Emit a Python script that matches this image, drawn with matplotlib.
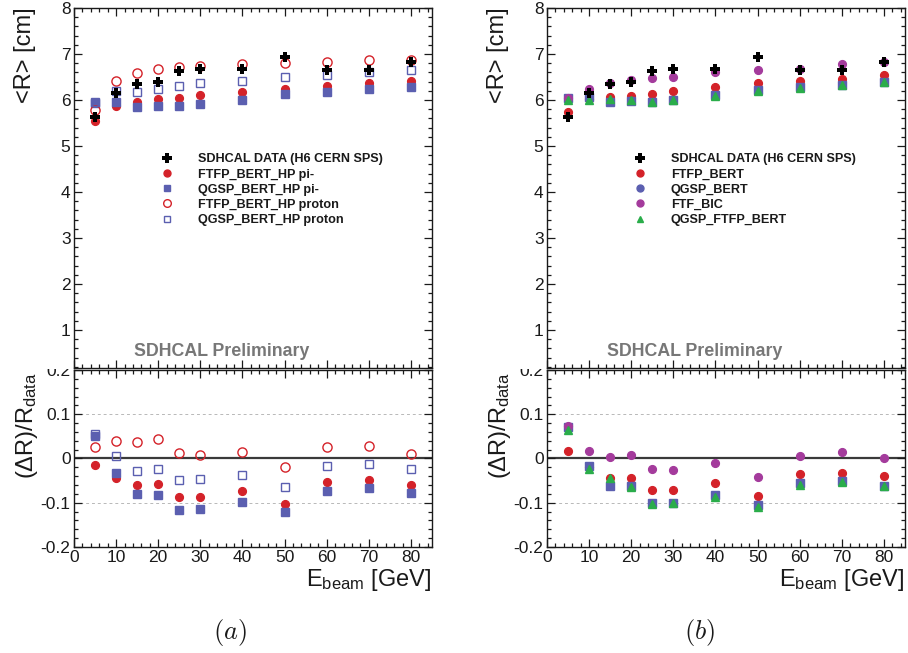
import matplotlib
matplotlib.use("Agg")
import matplotlib.pyplot as plt
from matplotlib.lines import Line2D
from matplotlib.patches import Rectangle
from matplotlib.ticker import MultipleLocator

plt.rcParams['font.family'] = ['Liberation Sans', 'DejaVu Sans']
plt.rcParams['axes.unicode_minus'] = False
plt.rcParams['mathtext.fontset'] = 'custom'
plt.rcParams['mathtext.rm'] = 'Liberation Sans'
plt.rcParams['mathtext.it'] = 'Liberation Sans:italic'
plt.rcParams['mathtext.bf'] = 'Liberation Sans:bold'

# ---------------- data ----------------
energy = [5, 10, 15, 20, 25, 30, 40, 50, 60, 70, 80]

# measured data
data_R = [5.64, 6.16, 6.34, 6.40, 6.63, 6.67, 6.67, 6.94, 6.65, 6.65, 6.83]

# panel (a): HP physics lists, pi- and proton
ftfp_hp_pi_R = [5.55, 5.88, 5.96, 6.02, 6.04, 6.10, 6.17, 6.25, 6.31, 6.36, 6.42]
qgsp_hp_pi_R = [5.93, 5.95, 5.84, 5.86, 5.86, 5.92, 6.01, 6.12, 6.17, 6.25, 6.29]
ftfp_hp_p_R = [5.78, 6.41, 6.59, 6.68, 6.71, 6.75, 6.78, 6.80, 6.83, 6.87, 6.88]
qgsp_hp_p_R = [5.96, 6.20, 6.17, 6.25, 6.30, 6.38, 6.42, 6.51, 6.55, 6.61, 6.66]

ftfp_hp_pi_D = [-0.015, -0.044, -0.060, -0.057, -0.088, -0.086, -0.074, -0.102, -0.053, -0.049, -0.059]
qgsp_hp_pi_D = [0.050, -0.033, -0.080, -0.083, -0.116, -0.113, -0.098, -0.120, -0.073, -0.066, -0.077]
ftfp_hp_p_D = [0.027, 0.040, 0.038, 0.045, 0.012, 0.009, 0.015, -0.020, 0.025, 0.028, 0.010]
qgsp_hp_p_D = [0.055, 0.005, -0.028, -0.023, -0.049, -0.046, -0.037, -0.064, -0.016, -0.012, -0.023]

# panel (b): other physics lists
ftfp_bert_R = [5.73, 6.03, 6.06, 6.09, 6.14, 6.20, 6.29, 6.36, 6.42, 6.46, 6.54]
qgsp_bert_R = [6.04, 6.07, 5.95, 5.97, 5.95, 6.00, 6.10, 6.22, 6.28, 6.33, 6.40]
ftf_bic_R = [6.04, 6.25, 6.36, 6.43, 6.48, 6.51, 6.60, 6.66, 6.68, 6.78, 6.83]
qgsp_ftfp_R = [6.00, 6.00, 6.03, 5.99, 5.96, 6.00, 6.09, 6.19, 6.26, 6.32, 6.39]

ftfp_bert_D = [0.018, -0.020, -0.044, -0.045, -0.071, -0.071, -0.056, -0.084, -0.035, -0.032, -0.040]
qgsp_bert_D = [0.072, -0.017, -0.062, -0.063, -0.101, -0.101, -0.083, -0.105, -0.056, -0.050, -0.062]
ftf_bic_D = [0.074, 0.016, 0.004, 0.009, -0.023, -0.026, -0.011, -0.041, 0.005, 0.014, 0.002]
qgsp_ftfp_D = [0.065, -0.024, -0.044, -0.065, -0.102, -0.101, -0.086, -0.110, -0.059, -0.054, -0.063]

labels_a = ['SDHCAL DATA (H6 CERN SPS)', 'FTFP_BERT_HP pi-', 'QGSP_BERT_HP pi-',
            'FTFP_BERT_HP proton', 'QGSP_BERT_HP proton']
labels_b = ['SDHCAL DATA (H6 CERN SPS)', 'FTFP_BERT', 'QGSP_BERT', 'FTF_BIC', 'QGSP_FTFP_BERT']

# ---------------- style ----------------
RED = '#d42229'
BLUE = '#5b5fb0'
MAG = '#a43b9c'
GREEN = '#2aad4a'
TXT = '#1a1a1a'
MS = 5.6

W, H = 908, 653
fig = plt.figure(figsize=(W / 100, H / 100), dpi=100)


def frac_x(px):
    return px / W


def frac_y(py):
    return 1 - py / H


def style_axes(ax, ymajor, yminor):
    ax.set_xlim(0, 85)
    ax.xaxis.set_major_locator(MultipleLocator(10))
    ax.xaxis.set_minor_locator(MultipleLocator(2))
    ax.yaxis.set_major_locator(MultipleLocator(ymajor))
    ax.yaxis.set_minor_locator(MultipleLocator(yminor))
    ax.tick_params(which='both', direction='in', top=True, right=True, colors=TXT,
                   labelsize=12.5, width=0.9, pad=2.5)
    ax.tick_params(which='major', length=6)
    ax.tick_params(which='minor', length=3)
    for s in ax.spines.values():
        s.set_linewidth(1.0)
        s.set_color(TXT)


left_px = [74, 547]
axw = 358
top_y0, top_y1 = 8, 368
bot_y0, bot_y1 = 370, 547

panels = []
for lp in left_px:
    axb = fig.add_axes([frac_x(lp), frac_y(bot_y1), axw / W, (bot_y1 - bot_y0) / H], zorder=0)
    axt = fig.add_axes([frac_x(lp), frac_y(top_y1), axw / W, (top_y1 - top_y0) / H], zorder=2)
    panels.append((axt, axb))

# white cover to hide the part of the lower pad above its frame (as in ROOT)
fig.patches.append(Rectangle((0, frac_y(bot_y0) + 0.001), 1, 1, transform=fig.transFigure,
                             facecolor='white', edgecolor='none', zorder=1))

# ----- panel (a) -----
axt, axb = panels[0]
axt.plot(energy, ftfp_hp_pi_R, 'o', color=RED, ms=MS, mec=RED)
axt.plot(energy, qgsp_hp_pi_R, 's', color=BLUE, ms=MS, mec=BLUE)
axt.plot(energy, ftfp_hp_p_R, 'o', mfc='none', mec=RED, ms=MS + 1, mew=1.0)
axt.plot(energy, qgsp_hp_p_R, 's', mfc='none', mec=BLUE, ms=MS + 0.5, mew=1.0)
axt.plot(energy, data_R, 'P', color='black', ms=7.5, mew=0)

axb.plot(energy, ftfp_hp_pi_D, 'o', color=RED, ms=MS, mec=RED)
axb.plot(energy, qgsp_hp_pi_D, 's', color=BLUE, ms=MS, mec=BLUE)
axb.plot(energy, ftfp_hp_p_D, 'o', mfc='none', mec=RED, ms=MS + 1, mew=1.0)
axb.plot(energy, qgsp_hp_p_D, 's', mfc='none', mec=BLUE, ms=MS + 0.5, mew=1.0)

handles_a = [
    Line2D([], [], ls='none', marker='P', color='black', ms=6.5, mew=0),
    Line2D([], [], ls='none', marker='o', color=RED, ms=5),
    Line2D([], [], ls='none', marker='s', color=BLUE, ms=5),
    Line2D([], [], ls='none', marker='o', mfc='none', mec=RED, ms=5.5, mew=1.0),
    Line2D([], [], ls='none', marker='s', mfc='none', mec=BLUE, ms=5, mew=1.0),
]

# ----- panel (b) -----
axt2, axb2 = panels[1]
axt2.plot(energy, ftfp_bert_R, 'o', color=RED, ms=MS, mec=RED)
axt2.plot(energy, qgsp_bert_R, 's', color=BLUE, ms=MS, mec=BLUE)
axt2.plot(energy, ftf_bic_R, 'o', color=MAG, ms=MS, mec=MAG)
axt2.plot(energy, qgsp_ftfp_R, '^', color=GREEN, ms=MS + 0.5, mec=GREEN)
axt2.plot(energy, data_R, 'P', color='black', ms=7.5, mew=0)

axb2.plot(energy, ftfp_bert_D, 'o', color=RED, ms=MS, mec=RED)
axb2.plot(energy, qgsp_bert_D, 's', color=BLUE, ms=MS, mec=BLUE)
axb2.plot(energy, ftf_bic_D, 'o', color=MAG, ms=MS, mec=MAG)
axb2.plot(energy, qgsp_ftfp_D, '^', color=GREEN, ms=MS + 0.5, mec=GREEN)

handles_b = [
    Line2D([], [], ls='none', marker='P', color='black', ms=6.5, mew=0),
    Line2D([], [], ls='none', marker='o', color=RED, ms=5),
    Line2D([], [], ls='none', marker='o', color=BLUE, ms=5),
    Line2D([], [], ls='none', marker='o', color=MAG, ms=5),
    Line2D([], [], ls='none', marker='^', color=GREEN, ms=4.5),
]

for (axt_, axb_), handles, labels in zip(panels, [handles_a, handles_b], [labels_a, labels_b]):
    style_axes(axt_, 1, 0.2)
    axt_.set_ylim(8 - (top_y1 - top_y0) / 46.0, 8)
    axt_.tick_params(axis='x', labelbottom=False)
    style_axes(axb_, 0.1, 0.02)
    axb_.set_ylim(-0.2, 0.2)
    axb_.yaxis.set_major_formatter(matplotlib.ticker.FuncFormatter(
        lambda v, p: '0' if abs(v) < 1e-9 else f'{v:.1f}'))
    axb_.axhline(0, color='#3a3a3a', lw=1.6, zorder=1)
    for yv in (0.1, -0.1):
        axb_.axhline(yv, color='#b8b8b8', lw=0.7, ls=(0, (3, 3)), zorder=0)

    leg = axt_.legend(handles, labels, loc='upper left', bbox_to_anchor=(0.242, 0.596),
                      frameon=False, borderpad=0, borderaxespad=0, handlelength=1.0,
                      handletextpad=1.94, labelspacing=0.25,
                      prop={'family': 'Liberation Sans', 'weight': 'bold', 'size': 9.1})
    for t in leg.get_texts():
        t.set_color(TXT)
    axt_.text(0.1676, 0.047, 'SDHCAL Preliminary', transform=axt_.transAxes,
              ha='left', va='center', fontsize=12.8, fontweight='bold', color='#777777')

# axis titles (ROOT-style placement)
for off in (0, 473):
    fig.text(frac_x(25 + off), frac_y(7), '<R> [cm]', rotation=90, ha='center', va='top',
             fontsize=17, color=TXT)
    fig.text(frac_x(27 + off), frac_y(372), r'$\mathrm{(\Delta R)/R_{data}}$', rotation=90,
             ha='center', va='top', fontsize=17, color=TXT)
    fig.text(frac_x(431 + off), frac_y(586), r'$\mathrm{E_{beam}}$ [GeV]', ha='right',
             va='baseline', fontsize=17, color=TXT)

fig.text(frac_x(230), frac_y(632), r'$(a)$', ha='center', va='center', fontsize=19,
         math_fontfamily='cm', color=TXT)
fig.text(frac_x(700), frac_y(632), r'$(b)$', ha='center', va='center', fontsize=19,
         math_fontfamily='cm', color=TXT)

fig.savefig('out.png', dpi=100)
